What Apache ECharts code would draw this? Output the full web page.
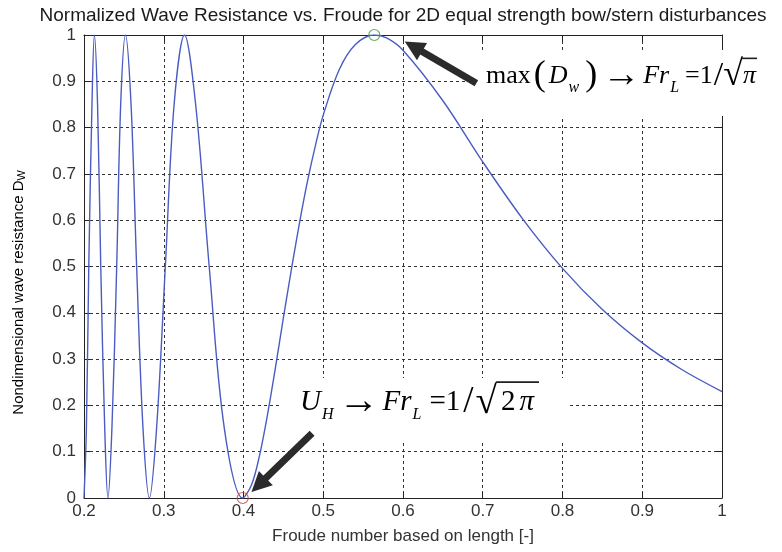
<!DOCTYPE html>
<html>
<head>
<meta charset="utf-8">
<script src="https://cdn.jsdelivr.net/npm/echarts@6/dist/echarts.min.js"></script>
<style>
html,body{margin:0;padding:0;background:#fff;}
#main{width:782px;height:552px;}
</style>
</head>
<body>
<div id="main"></div>
<script>
// ---- data ----
const chartTitle = 'Normalized Wave Resistance vs. Froude for 2D equal strength bow/stern disturbances';
const xAxisTitle = 'Froude number based on length [-]';
const yAxisTitle = 'Nondimensional wave resistance D';
const yAxisTitleSub = 'W';

// Froude number (x) and nondimensional wave resistance (y) along the curve
const froude = [
  0.200, 0.203, 0.206, 0.210, 0.213, 0.217, 0.221, 0.226, 0.230,
  0.235, 0.241, 0.246, 0.252, 0.259, 0.266, 0.274, 0.282,
  0.291, 0.302, 0.313, 0.326, 0.340, 0.357, 0.376, 0.399,
  0.410, 0.420, 0.430, 0.440, 0.450, 0.460, 0.470, 0.480, 0.490, 0.500,
  0.520, 0.540, 0.564, 0.580, 0.600, 0.650, 0.700, 0.750, 0.800,
  0.850, 0.900, 0.950, 1.000
];
const resistance = [
  0.00, 0.15, 0.50, 0.85, 1.00, 0.85, 0.50, 0.15, 0.00,
  0.15, 0.50, 0.85, 1.00, 0.85, 0.50, 0.15, 0.00,
  0.15, 0.50, 0.85, 1.00, 0.85, 0.50, 0.15, 0.00,
  0.028, 0.091, 0.179, 0.281, 0.389, 0.493, 0.592, 0.682, 0.760, 0.827,
  0.925, 0.979, 1.000, 0.993, 0.967, 0.858, 0.726, 0.603, 0.496,
  0.407, 0.335, 0.277, 0.230
];

// highlighted points
const maxPoint = [0.564, 1.0];
const minPoint = [0.399, 0.0];

// annotation arrows: [tail, head] in data coordinates
const arrowMax = [[0.692, 0.896], [0.613, 0.975]];
const arrowMin = [[0.486, 0.140], [0.419, 0.028]];

const xTickLabels = ['0.2', '0.3', '0.4', '0.5', '0.6', '0.7', '0.8', '0.9', '1'];
const yTickLabels = ['0', '0.1', '0.2', '0.3', '0.4', '0.5', '0.6', '0.7', '0.8', '0.9', '1'];

// annotation formulas as [style, text] tokens
const formulaMax = [['r', 'max'], ['p', '('], ['i', 'D'], ['s', 'w'], ['p', ')'], ['a', '→'],
  ['i', 'Fr'], ['s', 'L'], ['e', '=1'], ['sl', '/'], ['rt', '√'], ['i', 'π']];
const formulaMin = [['i', 'U'], ['s', 'H'], ['a', '→'], ['i', 'Fr'], ['s', 'L'], ['e', '=1'],
  ['sl', '/'], ['rt', '√'], ['q', '2'], ['qi', 'π']];

// ---- chart ----
const lineData = froude.map((x, i) => [x, resistance[i]]);
const sans = '"Liberation Sans", Arial, sans-serif';
const serif = '"Liberation Serif", "Times New Roman", serif';
const gridColor = '#333';
const ink = '#1e1e1e';
const LH = 40;

function mathStyles(base, extra) {
  return {
    r: {fontFamily: serif, fontSize: base, color: ink, lineHeight: LH, verticalAlign: 'middle'},
    i: {fontFamily: serif, fontSize: base, fontStyle: 'italic', color: ink, lineHeight: LH, verticalAlign: 'middle'},
    q: {fontFamily: serif, fontSize: base, color: ink, lineHeight: LH, verticalAlign: 'middle', padding: [0, 1 + extra, 0, 2 + extra]},
    qi: {fontFamily: serif, fontSize: base, fontStyle: 'italic', color: ink, lineHeight: LH, verticalAlign: 'middle', padding: [0, 2 + extra, 0, 1]},
    e: {fontFamily: serif, fontSize: base, color: ink, lineHeight: LH, verticalAlign: 'middle', padding: [0, 1 + extra, 0, 3 + extra]},
    p: {fontFamily: serif, fontSize: base + 10, color: ink, lineHeight: LH, verticalAlign: 'middle', padding: [0, 3, 0, 3]},
    a: {fontFamily: serif, fontSize: base + 12, color: ink, lineHeight: LH, verticalAlign: 'middle', padding: [0, 3, 0, 2]},
    sl: {fontFamily: serif, fontSize: base + 8, color: ink, lineHeight: LH, verticalAlign: 'middle'},
    rt: {fontFamily: serif, fontSize: base + 10, color: ink, lineHeight: LH, verticalAlign: 'middle', padding: [0, 0, 0, extra]},
    s: {fontFamily: serif, fontSize: 16, fontStyle: 'italic', color: ink, lineHeight: 12, verticalAlign: 'bottom', padding: [0, 3, 0, 1]}
  };
}

const measureCtx = document.createElement('canvas').getContext('2d');
function fontOf(st) {
  return (st.fontStyle || 'normal') + ' normal ' + st.fontSize + 'px ' + st.fontFamily;
}
// build a rich text element plus the overline of its square root
function formulaElements(tokens, base, extra, left, top) {
  const styles = mathStyles(base, extra);
  const text = tokens.map(t => '{' + t[0] + '|' + t[1] + '}').join('');
  let x = left, rootX = null, rootTop = null;
  const cy = top + LH / 2;
  tokens.forEach(t => {
    const st = styles[t[0]];
    const pad = st.padding || [0, 0, 0, 0];
    measureCtx.font = fontOf(st);
    measureCtx.textBaseline = 'middle';
    const m = measureCtx.measureText(t[1]);
    if (t[0] === 'rt') {
      rootX = x + pad[3] + m.actualBoundingBoxRight;
      rootTop = cy - m.actualBoundingBoxAscent;
    }
    x += pad[3] + m.width + pad[1];
  });
  const els = [{type: 'text', left: left, top: top, z: 50, style: {text: text, rich: styles}}];
  if (rootX !== null) {
    els.push({
      type: 'line', z: 50,
      shape: {x1: rootX - 1.5, y1: rootTop + 0.9, x2: x + 1, y2: rootTop + 0.9},
      style: {stroke: ink, lineWidth: 1.6}
    });
  }
  return els;
}

const chart = echarts.init(document.getElementById('main'), null, {renderer: 'canvas'});

const axisCommon = {
  type: 'value',
  axisLine: {show: true, onZero: false, lineStyle: {color: '#222', width: 1}},
  axisTick: {show: true, inside: true, length: 6, lineStyle: {color: '#222'}},
};

chart.setOption({
  animation: false,
  backgroundColor: '#fff',
  title: {
    text: chartTitle,
    left: 398,
    top: 1,
    textAlign: 'center',
    textStyle: {fontFamily: sans, fontSize: 19, fontWeight: 'normal', color: '#1a1a1a'}
  },
  grid: {left: 84, right: 60, top: 35, bottom: 54, containLabel: false},
  xAxis: [
    Object.assign({}, axisCommon, {
      min: 0.2, max: 1, interval: 0.1, position: 'bottom',
      name: xAxisTitle, nameLocation: 'middle', nameGap: 30,
      nameTextStyle: {fontFamily: sans, fontSize: 17, color: '#333'},
      axisLabel: {
        margin: 5, fontFamily: sans, fontSize: 17, color: '#333',
        formatter: v => xTickLabels[Math.round((v - 0.2) * 10)]
      },
      splitLine: {show: true, lineStyle: {color: gridColor, type: [3, 3], width: 1}}
    }),
    Object.assign({}, axisCommon, {
      min: 0.2, max: 1, interval: 0.1, position: 'top',
      axisLabel: {show: false}, splitLine: {show: false}
    })
  ],
  yAxis: [
    Object.assign({}, axisCommon, {
      min: 0, max: 1, interval: 0.1, position: 'left',
      axisLabel: {
        margin: 8, fontFamily: sans, fontSize: 17, color: '#333',
        formatter: v => yTickLabels[Math.round(v * 10)]
      },
      splitLine: {show: true, lineStyle: {color: gridColor, type: [3, 3], width: 1}}
    }),
    Object.assign({}, axisCommon, {
      min: 0, max: 1, interval: 0.1, position: 'right',
      axisLabel: {show: false}, splitLine: {show: false}
    })
  ],
  series: [
    {
      type: 'line',
      data: lineData,
      smooth: 0.35,
      showSymbol: false,
      symbol: 'none',
      lineStyle: {color: '#4a5cc2', width: 1.4},
      z: 5,
      markLine: {
        silent: true,
        symbol: ['none', 'triangle'],
        symbolSize: [20, 20],
        lineStyle: {color: '#2b2b2b', width: 7, type: 'solid'},
        label: {show: false},
        data: [
          [{coord: arrowMax[0]}, {coord: arrowMax[1]}],
          [{coord: arrowMin[0]}, {coord: arrowMin[1]}]
        ]
      }
    },
    {
      type: 'scatter',
      data: [maxPoint],
      symbol: 'circle',
      symbolSize: 11,
      clip: false,
      itemStyle: {color: 'rgba(0,0,0,0)', borderColor: '#3a9a3a', borderWidth: 1.2},
      z: 6
    },
    {
      type: 'scatter',
      data: [minPoint],
      symbol: 'circle',
      symbolSize: 11,
      clip: false,
      itemStyle: {color: 'rgba(0,0,0,0)', borderColor: '#d04040', borderWidth: 1.2},
      z: 6
    }
  ],
  graphic: [
    {
      type: 'text', left: 11, top: 170, rotation: Math.PI / 2, z: 50,
      style: {
        text: '{n|' + yAxisTitle + '}{s|' + yAxisTitleSub + '}',
        rich: {
          n: {fontFamily: sans, fontSize: 15, color: '#333', lineHeight: 18, verticalAlign: 'middle'},
          s: {fontFamily: sans, fontSize: 11, color: '#333', lineHeight: 8, verticalAlign: 'bottom'}
        }
      }
    },
    {type: 'rect', z: 3, shape: {x: 478, y: 50, width: 290, height: 66}, style: {fill: '#fff'}},
    {type: 'rect', z: 3, shape: {x: 280, y: 378, width: 288, height: 62}, style: {fill: '#fff'}}
  ].concat(formulaElements(formulaMax, 26, 0, 486, 57))
   .concat(formulaElements(formulaMin, 29, 2, 300, 382))
});
</script>
</body>
</html>
